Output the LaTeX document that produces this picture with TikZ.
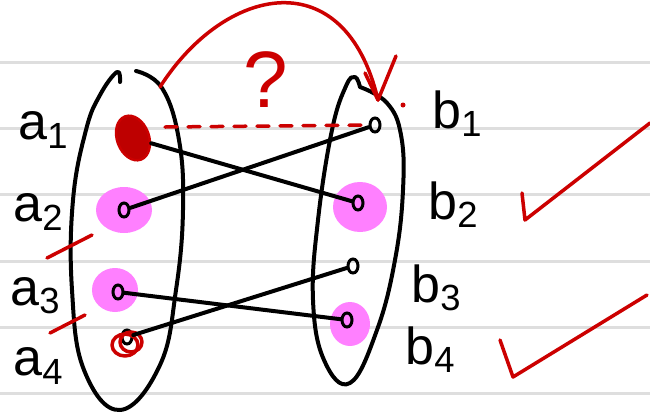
\documentclass[tikz,border=0pt]{standalone}
\usepackage{amsmath}
\usepackage{graphicx}
\usepackage{fontspec}
\setmainfont{Liberation Sans}
\usepackage{tikz}
\usetikzlibrary{shapes.geometric, arrows.meta, positioning}
\definecolor{penred}{RGB}{204,0,0}
\definecolor{blobred}{RGB}{190,0,0}
\definecolor{hilite}{RGB}{255,128,255}
\definecolor{ruleline}{RGB}{222,222,222}
\newcommand{\sublab}[2]{#1\raisebox{-0.3ex}{\scalebox{0.7}{#2}}}

\begin{document}
\begin{tikzpicture}[x=1pt, y=-1pt,
    rule/.style={ruleline, line width=3pt},
    pen/.style={black, line width=4pt, line cap=round, line join=round},
    redpen/.style={penred, line width=3.5pt, line cap=round, line join=round},
    dot/.style={ellipse, draw, line width=3pt, minimum width=10pt,
                minimum height=14pt, inner sep=0pt},
    lab/.style={font=\fontsize{52}{56}\selectfont, inner sep=0pt}]
  \useasboundingbox (0,0) rectangle (650,413);
  \fill[white] (0,0) rectangle (650,413);
  % ruled paper
  \foreach \y in {62,128,194,261,327,393}
    \draw[rule] (0,\y) -- (650,\y);

  % highlights
  \fill[hilite] (124,210) ellipse [x radius=28pt, y radius=23pt];
  \fill[hilite] (115,290) ellipse [x radius=23pt, y radius=22pt];
  \fill[hilite] (360,207) ellipse [x radius=27pt, y radius=25pt];
  \fill[hilite] (350,324) ellipse [x radius=20pt, y radius=22pt];

  % the two sets
  \draw[pen] plot[smooth, tension=0.7] coordinates {(120,82) (117,72) (100,95)
      (86,130) (73,200) (72,290) (84,370) (120,410) (160,365) (176,290)
      (183,210) (179,140) (162,88) (136,71)};
  \draw[pen] plot[smooth, tension=0.7] coordinates {(360,87) (355,77) (346,86)
      (332,130) (318,220) (313,300) (324,360) (350,383) (377,330) (395,260)
      (403,190) (401,135) (387,103) (360,87)};

  % elements
  \node[ellipse, fill=blobred, draw=penred, line width=2.5pt, rotate=20,
        minimum width=32pt, minimum height=46pt, inner sep=0pt]
    (a1) at (133,138) {};
  \node[dot] (a2) at (124,210) {};
  \node[dot] (a3) at (118,292) {};
  \node[dot] (a4) at (127,337) {};
  \node[dot] (b1) at (375,125) {};
  \node[dot] (b2) at (358,203) {};
  \node[dot] (b3) at (353,266) {};
  \node[dot] (b4) at (347,320) {};
  \draw[redpen] (125,345) ellipse [x radius=13pt, y radius=11pt];
  \draw[redpen] (131,342) ellipse [x radius=11pt, y radius=10pt];

  \foreach \s/\t in {a1/b2, a2/b1, a3/b4, a4/b3}
    \draw[pen] (\s) -- (\t);

  % labels
  \node[lab] (la1) at (43,130) {\sublab{a}{1}};
  \node[lab] (la2) at (38,212) {\sublab{a}{2}};
  \node[lab] (la3) at (35,296) {\sublab{a}{3}};
  \node[lab] (la4) at (38,366) {\sublab{a}{4}};
  \node[lab] (lb1) at (457,114) {\sublab{b}{1}};
  \node[lab] (lb2) at (453,205) {\sublab{b}{2}};
  \node[lab] (lb3) at (436,288) {\sublab{b}{3}};
  \node[lab] (lb4) at (430,350) {\sublab{b}{4}};

  % red notes
  \coordinate (dashstart) at (165,127);
  \draw[redpen, dash pattern=on 12pt off 11pt, shorten >=2pt]
    (dashstart) -- (b1);
  \coordinate (arcstart) at (160,87);
  \coordinate (tip) at (378,100);
  \draw[redpen] (arcstart) .. controls (225,-15) and (345,-40) .. (tip);
  \draw[redpen] (tip) -- ++(-13,-27);
  \draw[redpen] (tip) -- ++(18,-44);
  \node[penred, font=\fontsize{80}{80}\selectfont, inner sep=0pt]
    (ask) at (266,80) {?};
  \fill[penred] (403,105) circle (2.5pt);
  \draw[redpen] (47,258) -- (92,235);
  \draw[redpen] (50,333) -- (85,315);
  \draw[redpen] (522,193) -- (525,220) -- (650,123);
  \draw[redpen] (500,340) -- (513,377) -- (647,295);
\end{tikzpicture}
\end{document}
